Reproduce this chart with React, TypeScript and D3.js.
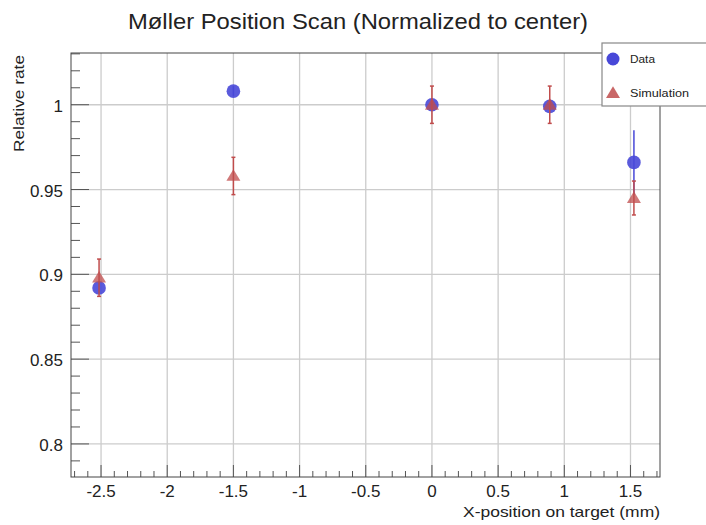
import React from "react";
import * as d3 from "d3";

const W = 706;
const H = 525;

const xPositions = [-2.515, -1.5, 0, 0.89, 1.526];
const dataValues = [0.892, 1.008, 1.0, 0.999, 0.966];
const dataErrors = [0.003, 0.003, 0.003, 0.003, 0.019];
const simValues = [0.898, 0.958, 1.0, 1.0, 0.945];
const simErrors = [0.011, 0.011, 0.011, 0.011, 0.01];

const xTicks = [-2.5, -2, -1.5, -1, -0.5, 0, 0.5, 1, 1.5];
const xTickLabels = ["-2.5", "-2", "-1.5", "-1", "-0.5", "0", "0.5", "1", "1.5"];
const yTicks = [0.8, 0.85, 0.9, 0.95, 1];
const yTickLabels = ["0.8", "0.85", "0.9", "0.95", "1"];

const title = "Møller Position Scan (Normalized to center)";
const xTitle = "X-position on target (mm)";
const yTitle = "Relative rate";
const legendLabels = ["Data", "Simulation"];

const FONT = "'Liberation Sans', Arial, sans-serif";
const BLUE = "#4848d8";
const RED = "#c04c4c";

export default function App() {
  const L = 71, R = 660, T = 53, B = 477;
  const x = d3.scaleLinear().domain([-2.727, 1.723]).range([L, R]);
  const y = d3.scaleLinear().domain([0.7805, 1.0305]).range([B, T]);

  const xMinor = d3.range(-27, 18).map((i) => i / 10).filter((v) => x(v) >= L && x(v) <= R);
  const yMinor = d3.range(79, 104).map((i) => i / 100).filter((v) => y(v) >= T && y(v) <= B);

  const tri = (cx: number, cy: number, s: number) =>
    `M${cx},${cy - s * 0.95} L${cx + s},${cy + s * 0.7} L${cx - s},${cy + s * 0.7} Z`;

  return (
    <svg width={W} height={H} style={{ position: "absolute", left: 0, top: 0, background: "#fff" }}>
      <rect x={0} y={0} width={W} height={H} fill="#fff" />
      {/* grid */}
      {xTicks.map((v, i) => (
        <line key={"gx" + i} x1={x(v)} x2={x(v)} y1={T} y2={B} stroke="#cccccc" strokeWidth={1.3} />
      ))}
      {yTicks.map((v, i) => (
        <line key={"gy" + i} x1={L} x2={R} y1={y(v)} y2={y(v)} stroke="#cccccc" strokeWidth={1.3} />
      ))}
      {/* ticks */}
      {xMinor.map((v, i) => {
        const major = xTicks.some((t) => Math.abs(t - v) < 1e-6);
        const len = major ? 12 : 6;
        return <line key={"xt" + i} x1={x(v)} x2={x(v)} y1={B} y2={B - len} stroke="#555" strokeWidth={1} />;
      })}
      {yMinor.map((v, i) => {
        const major = yTicks.some((t) => Math.abs(t - v) < 1e-6);
        const len = major ? 18 : 9;
        return <line key={"yt" + i} x1={L} x2={L + len} y1={y(v)} y2={y(v)} stroke="#555" strokeWidth={1} />;
      })}
      {/* frame */}
      <rect x={L} y={T} width={R - L} height={B - T} fill="none" stroke="#444" strokeWidth={1} />
      {/* tick labels */}
      {xTicks.map((v, i) => (
        <text key={"xl" + i} x={x(v)} y={497} textAnchor="middle" fontFamily={FONT} fontSize={17} fill="#222">
          {xTickLabels[i]}
        </text>
      ))}
      {yTicks.map((v, i) => (
        <text key={"yl" + i} x={L - 8} y={y(v) + 7} textAnchor="end" fontFamily={FONT} fontSize={17} fill="#222">
          {yTickLabels[i]}
        </text>
      ))}
      {/* titles */}
      <text x={128} y={29} fontFamily={FONT} fontSize={22} fill="#222" textLength={460} lengthAdjust="spacingAndGlyphs">
        {title}
      </text>
      <text x={463} y={517} fontFamily={FONT} fontSize={15} fill="#222" textLength={197} lengthAdjust="spacingAndGlyphs">
        {xTitle}
      </text>
      <text transform={`translate(24,152) rotate(-90)`} fontFamily={FONT} fontSize={14.5} fill="#222" textLength={97} lengthAdjust="spacingAndGlyphs">
        {yTitle}
      </text>
      {/* data error bars */}
      {xPositions.map((v, i) => (
        <line key={"de" + i} x1={x(v)} x2={x(v)} y1={y(dataValues[i] - dataErrors[i])} y2={y(dataValues[i] + dataErrors[i])} stroke={BLUE} strokeWidth={1.5} />
      ))}
      {xPositions.map((v, i) => (
        <circle key={"dp" + i} cx={x(v)} cy={y(dataValues[i])} r={6.8} fill={BLUE} fillOpacity={0.9} />
      ))}
      {/* sim error bars */}
      {xPositions.map((v, i) => (
        <g key={"se" + i}>
          <line x1={x(v)} x2={x(v)} y1={y(simValues[i] - simErrors[i])} y2={y(simValues[i] + simErrors[i])} stroke={RED} strokeWidth={1.5} />
          <line x1={x(v) - 2} x2={x(v) + 2} y1={y(simValues[i] + simErrors[i])} y2={y(simValues[i] + simErrors[i])} stroke={RED} strokeWidth={1.5} />
          <line x1={x(v) - 2} x2={x(v) + 2} y1={y(simValues[i] - simErrors[i])} y2={y(simValues[i] - simErrors[i])} stroke={RED} strokeWidth={1.5} />
        </g>
      ))}
      {xPositions.map((v, i) => (
        <path key={"sp" + i} d={tri(x(v), y(simValues[i]), 7)} fill={RED} fillOpacity={0.75} />
      ))}
      {/* legend */}
      <rect x={602} y={43} width={120} height={63} fill="#fff" stroke="#888" strokeWidth={1.2} />
      <circle cx={613} cy={59} r={6.5} fill={BLUE} />
      <text x={630} y={63} fontFamily={FONT} fontSize={11} fill="#222" textLength={25} lengthAdjust="spacingAndGlyphs">{legendLabels[0]}</text>
      <path d={tri(613, 93, 7)} fill={RED} fillOpacity={0.85} />
      <text x={630} y={97} fontFamily={FONT} fontSize={11} fill="#222" textLength={59} lengthAdjust="spacingAndGlyphs">{legendLabels[1]}</text>
    </svg>
  );
}
